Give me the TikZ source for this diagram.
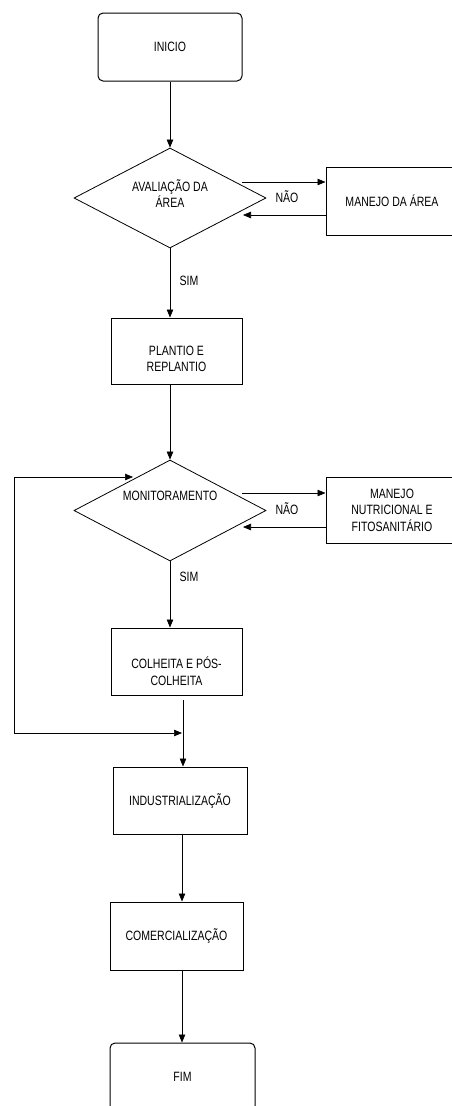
\documentclass[tikz,border=0pt]{standalone}
\usepackage{fontspec}
\setmainfont[FakeStretch=0.78]{Liberation Sans}
\usetikzlibrary{shapes.geometric,arrows.meta}
\begin{document}
\begin{tikzpicture}[x=1pt,y=-1pt,
  every node/.style={font=\fontsize{13.5}{16.5}\selectfont, text=black, align=center},
  box/.style={draw, line width=1pt, inner sep=0pt},
  rbox/.style={box, rounded corners=5pt},
  dec/.style={draw, diamond, line width=0.8pt, inner sep=0pt, minimum width=192pt, minimum height=100pt},
  txt/.style={inner sep=0pt},
  arr/.style={line width=0.6pt, -{Triangle[length=8pt,width=6.5pt]}},
  ln/.style={line width=0.6pt}]
\useasboundingbox (0,0) rectangle (451,1106);

% nodes
\node[rbox, minimum width=144pt, minimum height=68pt] (ini) at (170,47) {INICIO};
\node[dec] (d1) at (170,198) {};
\node[txt] (d1t) at (170,193.5) {AVALIAÇÃO DA\\ÁREA};
\node[box, minimum width=132pt, minimum height=68pt] (m1) at (392,201) {MANEJO DA ÁREA};
\node[txt] (nao1) at (287,197) {NÃO};
\node[txt] (sim1) at (189,281) {SIM};
\node[box, minimum width=131pt, minimum height=66pt] (pl) at (176.5,351) {};
\node[txt] (plt) at (176.5,359) {PLANTIO E\\REPLANTIO};
\node[dec, minimum height=101pt] (d2) at (170,510.5) {};
\node[txt] (d2t) at (170,496) {MONITORAMENTO};
\node[box, minimum width=132pt, minimum height=66pt] (m2) at (392,510) {MANEJO\\NUTRICIONAL E\\FITOSANITÁRIO};
\node[txt] (nao2) at (287,509) {NÃO};
\node[txt] (sim2) at (189,577) {SIM};
\node[box, minimum width=131pt, minimum height=67pt] (co) at (176.5,661.5) {};
\node[txt] (cot) at (176.5,671) {COLHEITA E PÓS-\\COLHEITA};
\node[box, minimum width=134pt, minimum height=67pt] (ind) at (180,800.5) {INDUSTRIALIZAÇÃO};
\node[box, minimum width=133pt, minimum height=68pt] (com) at (176.5,936) {COMERCIALIZAÇÃO};
\node[rbox, minimum width=145pt, minimum height=68pt] (fim) at (182.5,1077) {FIM};

% coordinates
\coordinate (a1) at (242,182);
\coordinate (b1) at (243,215);
\coordinate (a2) at (242,493);
\coordinate (b2) at (243,527);
\coordinate (L1) at (14,477);
\coordinate (L1e) at (133,477);
\coordinate (L2) at (14,733);
\coordinate (J) at (182,733);
\coordinate (cs) at (183,700);

% connectors
\draw[arr] (ini.south) -- (d1.north);
\draw[arr] (a1) -- (a1 -| m1.west);
\draw[arr] (b1 -| m1.west) -- (b1);
\draw[arr] (d1.south) -- (d1.south |- pl.north);
\draw[arr] (d2.north |- pl.south) -- (d2.north);
\draw[arr] (a2) -- (a2 -| m2.west);
\draw[arr] (b2 -| m2.west) -- (b2);
\draw[arr] (d2.south) -- (d2.south |- co.north);
\draw[arr] (cs) -- (cs |- ind.north);
\draw[ln] (L2) -- (L1);
\draw[arr] (L1) -- (L1e);
\draw[arr] (L2) -- (J);
\draw[arr] (ind.south -| J) -- (com.north -| J);
\draw[arr] (com.south -| J) -- (fim.north -| J);
\end{tikzpicture}
\end{document}
